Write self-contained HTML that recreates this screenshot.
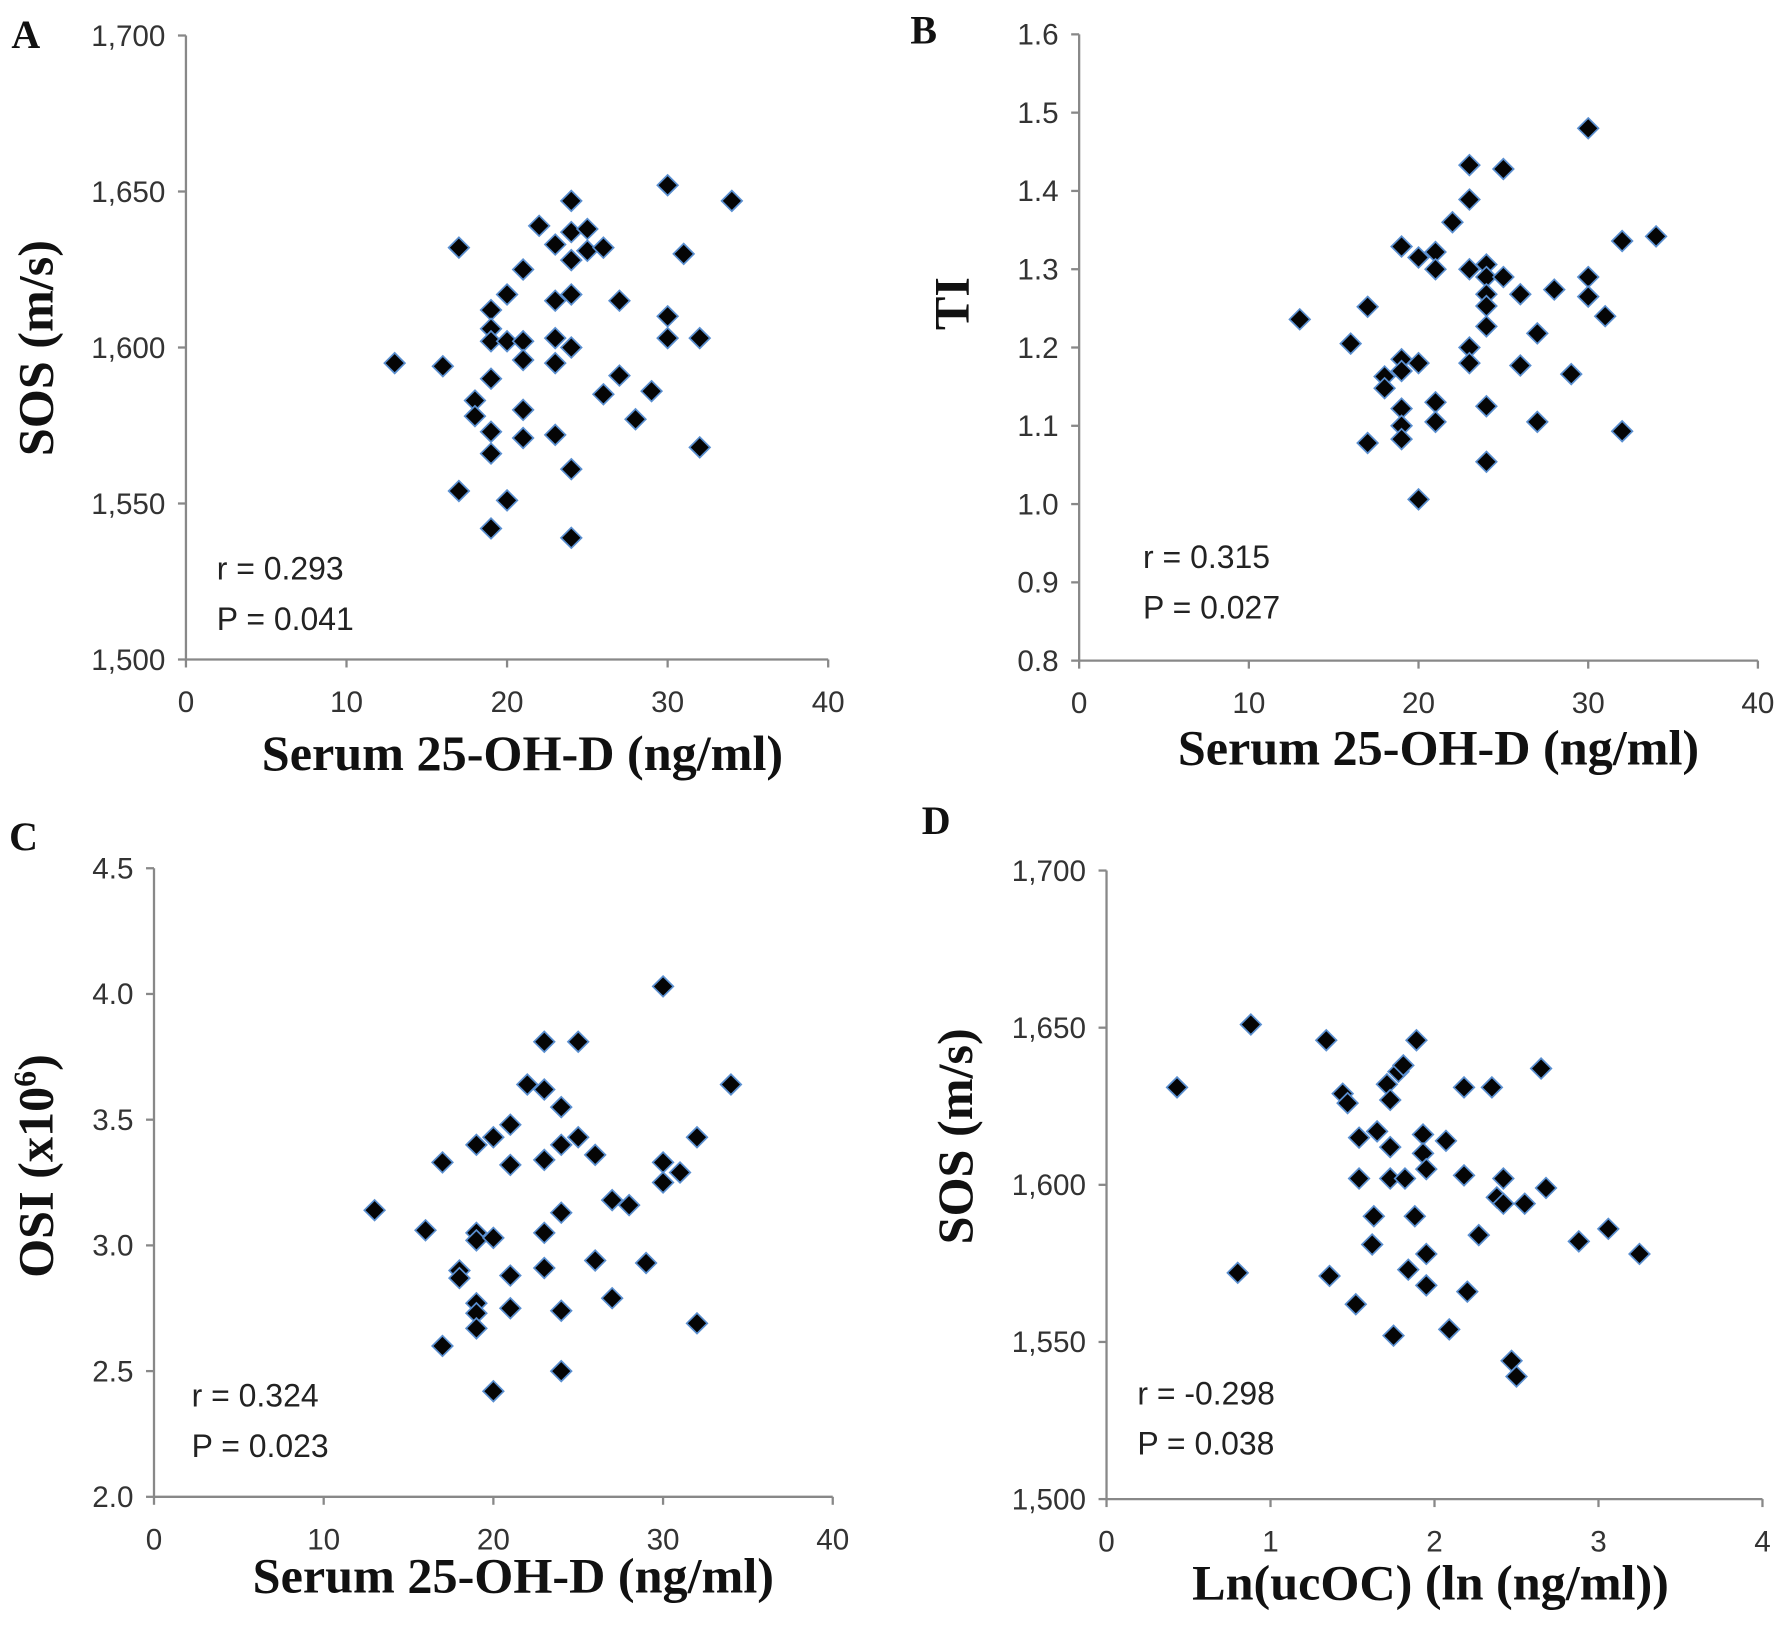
<!DOCTYPE html>
<html><head><meta charset="utf-8"><style>
html,body{margin:0;padding:0;background:#fff}
svg{display:block}
.tick{font-family:"Liberation Sans",sans-serif;font-size:26px;fill:#333}
.title{font-family:"Liberation Serif",serif;font-weight:bold;font-size:44px;fill:#111}
.letter{font-family:"Liberation Serif",serif;font-weight:bold;font-size:35px;fill:#111}
.stat{font-family:"Liberation Sans",sans-serif;font-size:28px;fill:#222}
</style></head><body>
<svg id="fig" width="1783" height="1627" viewBox="0 0 1563 1426" xmlns="http://www.w3.org/2000/svg"></svg>
<script>
const aX=[13,16,17,17,18,18,19,19,19,19,19,19,19,20,20,20,21,21,21,21,21,22,23,23,23,23,23,24,24,24,24,24,24,24,25,25,26,26,27,27,28,29,30,30,30,31,32,32,34];
const aY=[1595,1594,1632,1554,1583,1578,1612,1606,1602,1590,1573,1566,1542,1617,1602,1551,1625,1602,1596,1580,1571,1639,1633,1615,1603,1595,1572,1647,1637,1628,1617,1600,1561,1539,1638,1631,1632,1585,1615,1591,1577,1586,1652,1610,1603,1630,1603,1568,1647];
const bX=[13,16,17,17,18,18,19,19,19,19,19,19,20,20,20,21,21,21,21,22,23,23,23,23,23,24,24,24,24,24,24,24,25,25,26,26,27,27,28,29,30,30,30,31,32,32,34];
const bY=[1.236,1.205,1.252,1.078,1.163,1.148,1.329,1.185,1.170,1.122,1.100,1.083,1.315,1.180,1.006,1.322,1.300,1.130,1.105,1.360,1.433,1.389,1.300,1.200,1.180,1.306,1.290,1.268,1.253,1.227,1.125,1.054,1.428,1.290,1.268,1.177,1.218,1.105,1.274,1.166,1.480,1.290,1.265,1.240,1.336,1.093,1.342];
const cX=[13,16,17,17,18,18,19,19,19,19,19,19,20,20,20,21,21,21,21,22,23,23,23,23,23,24,24,24,24,24,25,25,26,26,27,27,28,29,30,30,30,31,32,32,34];
const cY=[3.14,3.06,3.33,2.60,2.90,2.87,3.40,3.05,3.02,2.77,2.73,2.67,3.43,3.03,2.42,3.48,3.32,2.88,2.75,3.64,3.81,3.62,3.34,3.05,2.91,3.55,3.40,3.13,2.74,2.50,3.81,3.43,3.36,2.94,3.18,2.79,3.16,2.93,4.03,3.33,3.25,3.29,3.43,2.69,3.64];
const dX=[0.43,0.80,0.88,1.34,1.36,1.44,1.47,1.52,1.54,1.54,1.62,1.63,1.65,1.71,1.73,1.73,1.73,1.75,1.78,1.81,1.82,1.84,1.88,1.89,1.93,1.93,1.95,1.95,1.95,2.07,2.09,2.18,2.18,2.20,2.27,2.35,2.38,2.42,2.42,2.47,2.50,2.55,2.65,2.68,2.88,3.06,3.25];
const dY=[1631,1572,1651,1646,1571,1629,1626,1562,1615,1602,1581,1590,1617,1632,1627,1612,1602,1552,1636,1638,1602,1573,1590,1646,1616,1610,1578,1568,1605,1614,1554,1631,1603,1566,1584,1631,1596,1602,1594,1544,1539,1594,1637,1599,1582,1586,1578];
const xTicks20=[0,10,20,30,40], xTicksD=[0,1,2,3,4];
const yTicksSOS=[1500,1550,1600,1650,1700];
const yTicksTI=[0.8,0.9,1.0,1.1,1.2,1.3,1.4,1.5,1.6];
const yTicksOSI=[2.0,2.5,3.0,3.5,4.0,4.5];
const NS="http://www.w3.org/2000/svg";
const svg=document.getElementById('fig');
function mk(tag,attrs,parent){const e=document.createElementNS(NS,tag);for(const k in attrs)e.setAttribute(k,attrs[k]);(parent||svg).appendChild(e);return e;}
function panel(p){
  const g=mk('g',{});
  
  
  const sx=v=>p.x0+(v-p.xmin)/(p.xmax-p.xmin)*(p.x1-p.x0);
  const sy=v=>p.y0-(v-p.ymin)/(p.ymax-p.ymin)*(p.y0-p.y1);
  const ya=mk('line',{x1:p.x0,y1:p.y0,x2:p.x0,y2:p.y1,stroke:'#888','stroke-width':2},g);
  
  const xa=mk('line',{x1:p.x0,y1:p.y0,x2:p.x1,y2:p.y0,stroke:'#888','stroke-width':2},g);
  
  p.yt.forEach(v=>{const y=sy(v);mk('line',{x1:p.x0-7,y1:y,x2:p.x0,y2:y,stroke:'#888','stroke-width':2},g);
    const t=mk('text',{x:p.x0-18,y:y+9,'text-anchor':'end',class:'tick'},g);t.textContent=p.yf(v);
    });
  p.xt.forEach(v=>{const x=sx(v);mk('line',{x1:x,y1:p.y0,x2:x,y2:p.y0+7,stroke:'#888','stroke-width':2},g);
    const t=mk('text',{x:x,y:p.y0+46,'text-anchor':'middle',class:'tick'},g);t.textContent=v;
    });
  p.xs.forEach((xv,i)=>{const x=sx(xv),y=sy(p.ys[i]),r=9;
    const m=mk('polygon',{points:`${x},${y-r} ${x+r},${y} ${x},${y+r} ${x-r},${y}`,fill:'#050505',stroke:'#5a8fd0','stroke-width':1.5},g);
    });
  const xt=mk('text',{x:p.xtx,y:p.y0+p.xty,'text-anchor':'middle',class:'title'},g);xt.textContent=p.xtitle;
  
  const yt=mk('text',{x:0,y:0,'text-anchor':'middle',class:'title',transform:`translate(${p.ytx},${p.yty}) rotate(-90)`},g);
  yt.innerHTML=p.ytitle;
  
  const l=mk('text',{x:p.lx,y:p.ly,class:'letter'},g);l.textContent=p.id;
  
  const r=mk('text',{x:p.sx,y:p.sy,class:'stat'},g);r.textContent=p.r;
  
  const pv=mk('text',{x:p.sx,y:p.sy+44,class:'stat'},g);pv.textContent=p.pv;
  
}
const comma=v=>v.toLocaleString('en-US');
const f1=v=>v.toFixed(1);
panel({id:'A',x0:163,x1:726,y0:578,y1:31,xmin:0,xmax:40,ymin:1500,ymax:1700,xt:xTicks20,yt:yTicksSOS,yf:comma,xs:aX,ys:aY,
  xtitle:'Serum 25-OH-D (ng/ml)',xtx:458,xty:97,ytitle:'SOS (m/s)',ytx:46,yty:305,lx:10,ly:42,r:'r = 0.293',pv:'P = 0.041',sx:190,sy:508});
panel({id:'B',x0:946,x1:1541,y0:579,y1:30,xmin:0,xmax:40,ymin:0.8,ymax:1.6,xt:xTicks20,yt:yTicksTI,yf:f1,xs:bX,ys:bY,
  xtitle:'Serum 25-OH-D (ng/ml)',xtx:1261,xty:91,ytitle:'TI',ytx:849,yty:266,lx:798,ly:38,r:'r = 0.315',pv:'P = 0.027',sx:1002,sy:498});
panel({id:'C',x0:135,x1:730,y0:1312,y1:761,xmin:0,xmax:40,ymin:2.0,ymax:4.5,xt:xTicks20,yt:yTicksOSI,yf:f1,xs:cX,ys:cY,
  xtitle:'Serum 25-OH-D (ng/ml)',xtx:450,xty:84,ytitle:'OSI (x10<tspan baseline-shift="super" font-size="28">6</tspan>)',ytx:46,yty:1022,lx:8,ly:745,r:'r = 0.324',pv:'P = 0.023',sx:168,sy:1233});
panel({id:'D',x0:970,x1:1545,y0:1314,y1:763,xmin:0,xmax:4,ymin:1500,ymax:1700,xt:xTicksD,yt:yTicksSOS,yf:comma,xs:dX,ys:dY,
  xtitle:'Ln(ucOC) (ln (ng/ml))',xtx:1254,xty:88,ytitle:'SOS (m/s)',ytx:852,yty:996,lx:808,ly:731,r:'r = -0.298',pv:'P = 0.038',sx:997,sy:1231});
</script>
</body></html>
